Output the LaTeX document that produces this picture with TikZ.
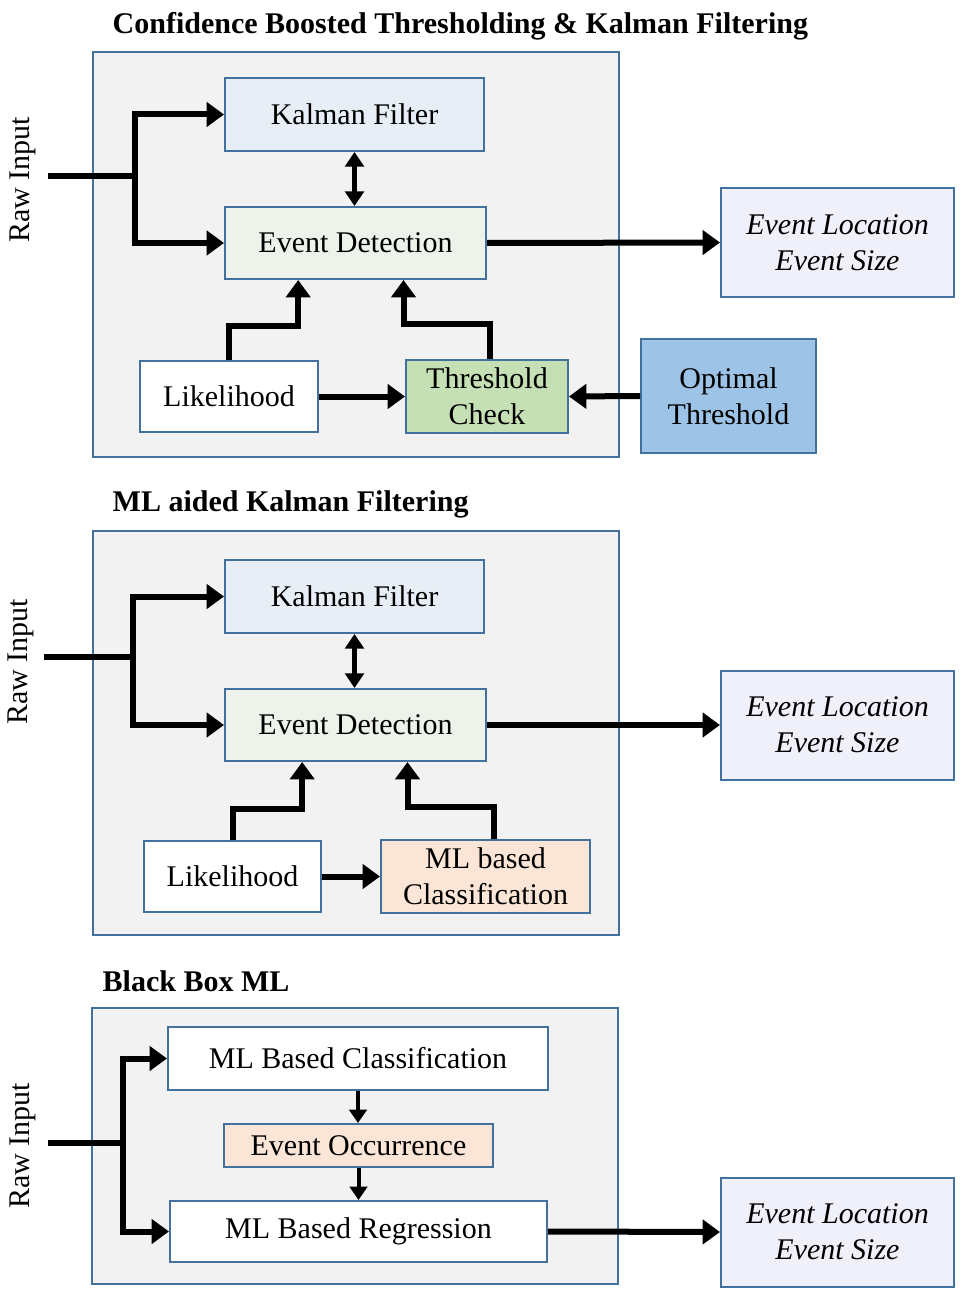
\documentclass[tikz,border=0pt]{standalone}
\usepackage{fontspec}
\setmainfont{Liberation Serif}
\usepackage{tikz}
\usetikzlibrary{positioning,arrows.meta,calc}
\definecolor{boxline}{HTML}{41719C}
\definecolor{framefill}{HTML}{F2F2F2}
\definecolor{kalfill}{HTML}{E8EEF5}
\definecolor{detfill}{HTML}{EDF2EA}
\definecolor{outfill}{HTML}{F0F0FB}
\definecolor{optfill}{HTML}{9DC3E6}
\definecolor{thrfill}{HTML}{C5E0B4}
\definecolor{mlfill}{HTML}{FBE5D6}

\begin{document}
\begin{tikzpicture}
  [
      x=0.75pt, y=-0.75pt,
      every node/.style={font=\fontsize{22.5}{27}\selectfont},
      frame/.style={draw=boxline, line width=1.5pt, fill=framefill},
      block/.style={draw=boxline, line width=1.5pt, fill=#1, align=center, inner sep=0pt},
      title/.style={anchor=west, font=\fontsize{22.5}{27}\selectfont\bfseries},
      raw/.style={rotate=90},
      flow/.style={line width=4.5pt, -{Triangle[length=13pt, width=18pt]}},
      thin flow/.style={line width=3pt, -{Triangle[length=10pt, width=13pt]}},
      both flow/.style={line width=3.5pt, {Triangle[length=11pt, width=14pt]}-{Triangle[length=11pt, width=14pt]}}
    ]
    \useasboundingbox (0,0) rectangle (961,1291);

    \node (t1) [title] at (108,26) {Confidence Boosted Thresholding \& Kalman Filtering};
    \draw [frame] (93,52) rectangle (619,457);
    \node (kf1) [block=kalfill, minimum width=194.25pt, minimum height=54.75pt] at (354.5,114.5) {Kalman Filter};
    \node (ed1) [block=detfill, minimum width=195.75pt, minimum height=54pt] at (355.5,243) {Event Detection};
    \node (lk1) [block=white, minimum width=133.5pt, minimum height=53.25pt] at (229,396.5) {Likelihood};
    \node (tc1) [block=thrfill, minimum width=121.5pt, minimum height=54.75pt] at (487,396.5) {Threshold\\Check};
    \node (ot1) [block=optfill, minimum width=131.25pt, minimum height=85.5pt] at (728.5,396) {Optimal\\Threshold};
    \node (out1) [block=outfill, minimum width=174.75pt, minimum height=81.75pt] at (837.5,242.5) {\itshape Event Location\\\itshape Event Size};
    \node (raw1) [raw] at (23,180) {Raw Input};
    \coordinate (in1) at (48,176);
    \coordinate (br1) at (135,176);
    \draw [flow] (in1) -- (br1) |- (kf1.west);
    \draw [flow] (br1) |- (ed1.west);
    \draw [both flow] (kf1.south) -- (kf1.south |- ed1.north);
    \draw [flow] (lk1.north) -- ++(0,-34) -| ([xshift=-43pt]ed1.south);
    \draw [flow] ([xshift=2pt]tc1.north) -- ++(0,-35) -| ([xshift=36pt]ed1.south);
    \foreach \i/\j in {lk1/tc1, ed1/out1}
      \draw [flow] (\i.east) -- (\j.west);
    \draw [flow] (ot1.west) -- (tc1.east);

    \node (t2) [title] at (108,504) {ML aided Kalman Filtering};
    \draw [frame] (93,531) rectangle (619,935);
    \node (kf2) [block=kalfill, minimum width=194.25pt, minimum height=54.75pt] at (354.5,596.5) {Kalman Filter};
    \node (ed2) [block=detfill, minimum width=195.75pt, minimum height=54pt] at (355.5,725) {Event Detection};
    \node (lk2) [block=white, minimum width=132.75pt, minimum height=53.25pt] at (232.5,876.5) {Likelihood};
    \node (ml2) [block=mlfill, minimum width=156.75pt, minimum height=54.75pt] at (485.5,876.5) {ML based\\Classification};
    \node (out2) [block=outfill, minimum width=174.75pt, minimum height=81.75pt] at (837.5,725) {\itshape Event Location\\\itshape Event Size};
    \node (raw2) [raw] at (21,662) {Raw Input};
    \coordinate (in2) at (44,657);
    \coordinate (br2) at (133,657);
    \draw [flow] (in2) -- (br2) |- (kf2.west);
    \draw [flow] (br2) |- (ed2.west);
    \draw [both flow] (kf2.south) -- (kf2.south |- ed2.north);
    \draw [flow] (lk2.north) -- ++(0,-31) -| ([xshift=-40pt]ed2.south);
    \draw [flow] ([xshift=6pt]ml2.north) -- ++(0,-32) -| ([xshift=39pt]ed2.south);
    \foreach \i/\j in {lk2/ml2, ed2/out2}
      \draw [flow] (\i.east) -- (\j.west);

    \node (t3) [title] at (98,981) {Black Box ML};
    \draw [frame] (92,1008) rectangle (618,1284);
    \node (cl3) [block=white, minimum width=285pt, minimum height=47.25pt] at (358,1058.5) {ML Based Classification};
    \node (oc3) [block=mlfill, minimum width=201.75pt, minimum height=32.25pt] at (358.5,1145.5) {Event Occurrence};
    \node (rg3) [block=white, minimum width=282.75pt, minimum height=45.75pt] at (358.5,1231.5) {ML Based Regression};
    \node (out3) [block=outfill, minimum width=174.75pt, minimum height=81.75pt] at (837.5,1232) {\itshape Event Location\\\itshape Event Size};
    \node (raw3) [raw] at (23,1146) {Raw Input};
    \coordinate (in3) at (48,1143);
    \coordinate (br3) at (123,1143);
    \draw [flow] (in3) -- (br3) |- (cl3.west);
    \draw [flow] (br3) |- (rg3.west);
    \foreach \i/\j in {cl3/oc3, oc3/rg3}
      \draw [thin flow] (\i.south) -- (\i.south |- \j.north);
    \draw [flow] (rg3.east) -- (out3.west);
  \end{tikzpicture}
\end{document}
